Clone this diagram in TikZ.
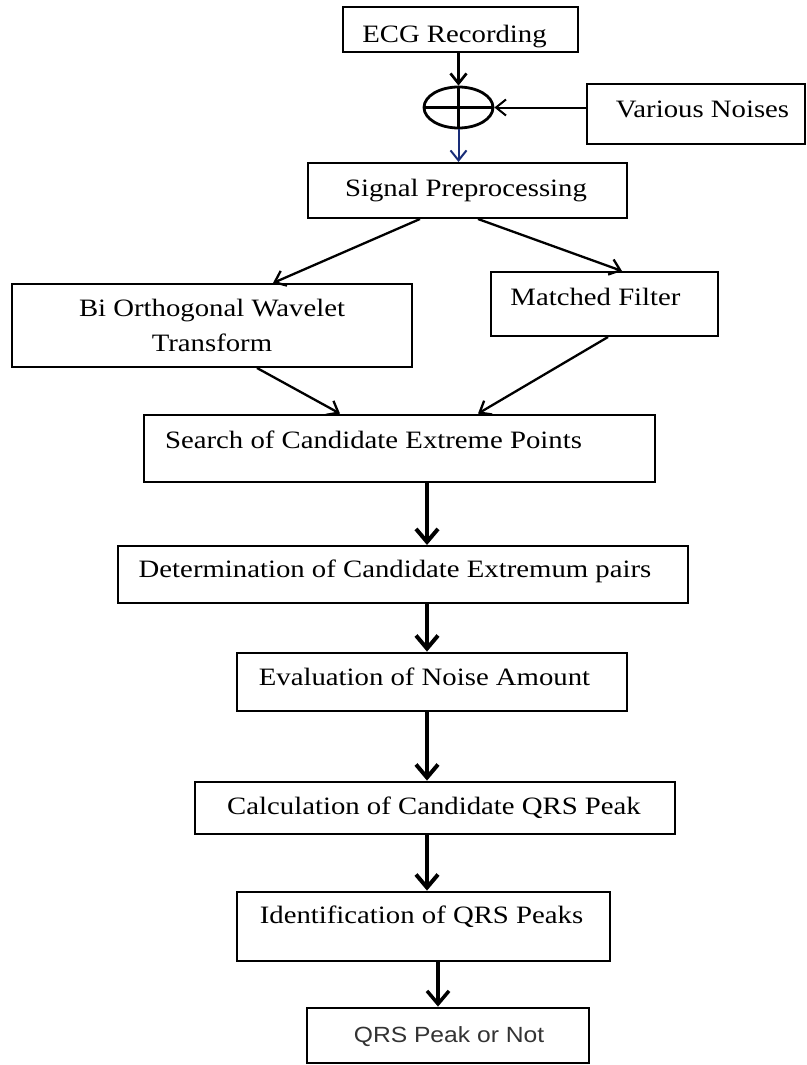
\documentclass[tikz,border=0pt]{standalone}
\usepackage{fontspec}
\setmainfont[FakeStretch=1.15]{Liberation Serif}
\newfontfamily\qrsfont[FakeStretch=1.12]{Liberation Sans}
\usetikzlibrary{arrows.meta,calc,shapes.geometric}
\newcommand\tx[3]{\raisebox{#2pt}{\hspace*{#1pt}#3\hspace*{-#1pt}}}
\definecolor{arrowblue}{RGB}{25,45,120}
\tikzset{
  boxbase/.style={draw, rectangle, inner sep=0pt, line width=2pt,
    font=\fontsize{25pt}{35pt}\selectfont},
  box/.style={boxbase, text height=0pt, text depth=0pt},
  thickbox/.style={box, line width=2.8pt},
  thinarrow/.style={line width=2.3pt, -{Straight Barb[length=10pt,width=16pt]}},
  thickarrow/.style={line width=4pt, -{Straight Barb[length=13pt,width=22pt]}},
}
\begin{document}
\begin{tikzpicture}[x=1pt,y=-1pt]
\useasboundingbox (0,0) rectangle (806,1065);

\node[box, minimum width=235pt, minimum height=45pt] (ecg) at (460.5,29.5) {\tx{-6}{-13}{ECG Recording}};
\node[draw, ellipse, inner sep=0pt, line width=2.8pt, minimum width=69pt, minimum height=41pt] (sum) at (458.5,107.5) {};
\node[box, minimum width=218pt, minimum height=60pt] (noise) at (696,114) {\tx{6.5}{-3}{Various Noises}};
\node[box, minimum width=319pt, minimum height=55pt] (sig) at (467.5,190.5) {\tx{-1.5}{-5.5}{Signal Preprocessing}};
\node[boxbase, align=center, minimum width=400pt, minimum height=83pt] (bio) at (212,325.5) {Bi Orthogonal Wavelet\\Transform};
\node[box, minimum width=227pt, minimum height=64pt] (mf) at (604.5,304) {\tx{-9}{-1.7}{Matched Filter}};
\node[thickbox, minimum width=511pt, minimum height=67pt] (search) at (399.5,448.5) {\tx{-26}{0}{Search of Candidate Extreme Points}};
\node[box, minimum width=570pt, minimum height=57pt] (det) at (403,574.5) {\tx{-8}{-2.8}{Determination of Candidate Extremum pairs}};
\node[thickbox, minimum width=390pt, minimum height=58pt] (eval) at (432,682) {\tx{-7.5}{-3.7}{Evaluation of Noise Amount}};
\node[thickbox, minimum width=480pt, minimum height=52pt] (calc) at (435,808) {\tx{-1}{-6.5}{Calculation of Candidate QRS Peak}};
\node[thickbox, minimum width=373pt, minimum height=69pt] (ident) at (423.5,926.5) {\tx{-2}{3.2}{Identification of QRS Peaks}};
\node[thickbox, minimum width=282pt, minimum height=55pt, font=\qrsfont\fontsize{22pt}{26pt}\selectfont, text=black!80] (qrs) at (448,1035.5) {\tx{1}{-6.8}{QRS Peak or Not}};

\coordinate (col) at (427,0);
\coordinate (col2) at (438,0);

% summing junction
\draw[thinarrow, line width=2.7pt] (ecg.south -| sum.north) -- (sum.north);
\draw[line width=2.5pt] (sum.north) -- (sum.south);
\draw[line width=2.5pt] (sum.west) -- (sum.east);
\draw[thinarrow, line width=2pt] (noise.west |- sum.east) -- (sum.east);
\draw[thinarrow, line width=2pt, arrowblue] (sum.south) -- (sum.south |- sig.north);

% branches
\draw[thinarrow] ([xshift=-47.5pt]sig.south) -- ([xshift=61pt]bio.north);
\draw[thinarrow] ([xshift=10.5pt]sig.south) -- ([xshift=17.5pt]mf.north);
\draw[thinarrow] ([xshift=45pt]bio.south) -- ([xshift=-59.5pt]search.north);
\draw[thinarrow] ([xshift=3.5pt]mf.south) -- ([xshift=78.5pt]search.north);

% main chain
\draw[thickarrow] (search.south -| col) -- (det.north -| col);
\draw[thickarrow] (det.south -| col) -- (eval.north -| col);
\draw[thickarrow] (eval.south -| col) -- (calc.north -| col);
\draw[thickarrow] (calc.south -| col) -- (ident.north -| col);
\draw[thickarrow, line width=3.5pt] (ident.south -| col2) -- (qrs.north -| col2);
\end{tikzpicture}
\end{document}
